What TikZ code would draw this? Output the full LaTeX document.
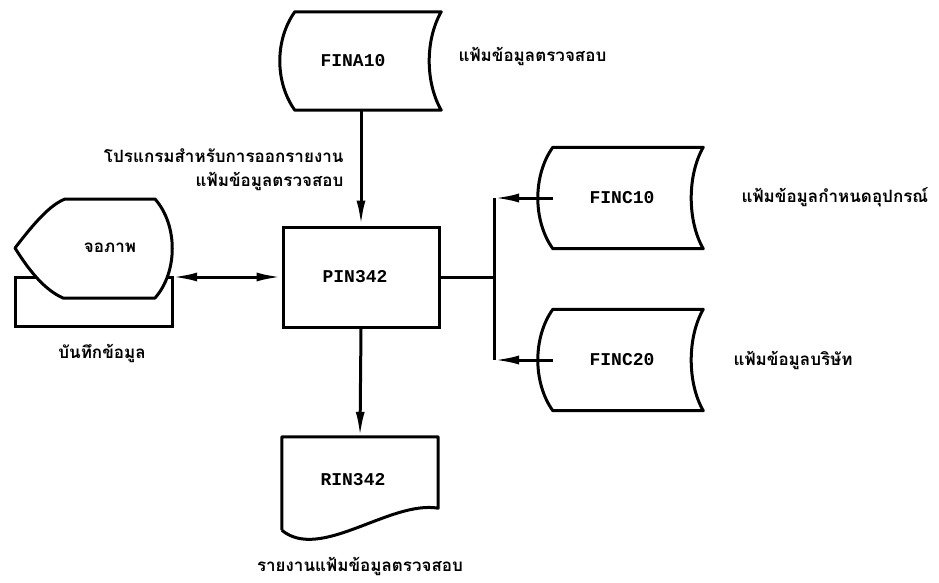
\documentclass[tikz,border=0pt]{standalone}
\usepackage{fontspec}
\setmonofont{Liberation Mono}
\newfontfamily\thaifont[Script=Thai]{Loma}
\usetikzlibrary{arrows.meta}
\tikzset{
  ln/.style={line width=3pt},
  tipb/.tip={Latex[length=25pt,width=9pt]},
  flow/.style={ln,-tipb},
  code/.style={font=\ttfamily\bfseries\fontsize{18}{20}\selectfont},
  thai/.style={font=\thaifont\bfseries\fontsize{17}{24}\selectfont},
  area/.style={draw=none,inner sep=0pt},
}
\newcommand\storedshape[1]{%
  \draw[ln,line join=round] (#1.north west) -- (#1.north east)
    .. controls ([xshift=-16pt,yshift=-28pt]#1.north east) and ([xshift=-16pt,yshift=28pt]#1.south east) .. (#1.south east)
    -- (#1.south west)
    .. controls ([xshift=-20pt,yshift=28pt]#1.south west) and ([xshift=-20pt,yshift=-28pt]#1.north west) .. cycle;}
\begin{document}
\begin{tikzpicture}[x=1pt,y=-1pt]
\useasboundingbox (0,0) rectangle (939,583);
% file FINA10
\node[area,code,minimum width=146pt,minimum height=98pt] (fina) at (368,61) {FINA10\hspace*{30pt}};
\storedshape{fina}
\node[thai,anchor=west] (finalbl) at (455,56) {แฟ้มข้อมูลตรวจสอบ};
% program
\node[draw,ln,code,minimum width=156pt,minimum height=100pt] (pin) at (361,277) {PIN342\hspace*{12pt}};
\node[thai,anchor=east,align=right] (pinlbl) at (347,170) {โปรแกรมสำหรับการออกรายงาน\\แฟ้มข้อมูลตรวจสอบ};
% display + back box
\node[area,minimum width=157pt,minimum height=127pt] (disp) at (93.5,262.5) {};
\draw[ln,fill=white] (15,277) rectangle (172,326);
\draw[ln,fill=white,line join=round] (15,248) .. controls (35,222) and (50,205) .. (65,199) -- (155,199)
  .. controls (178,225) and (178,272) .. (155,298) -- (63,298)
  .. controls (45,290) and (30,272) .. cycle;
\node[thai] (disptxt) at (110,248) {จอภาพ};
\node[thai] (displbl) at (102,353) {บันทึกข้อมูล};
% files FINC10, FINC20
\node[area,code,minimum width=150pt,minimum height=101pt] (finc1) at (628,198) {FINC10\hspace*{12pt}};
\storedshape{finc1}
\node[thai,anchor=west] (finc1lbl) at (738,197) {แฟ้มข้อมูลกำหนดอุปกรณ์};
\node[area,code,minimum width=150pt,minimum height=101pt] (finc2) at (628,360) {FINC20\hspace*{12pt}};
\storedshape{finc2}
\node[thai,anchor=west] (finc2lbl) at (730,360) {แฟ้มข้อมูลบริษัท};
% report RIN342
\node[area,minimum width=156pt,minimum height=93pt] (rin) at (360,483.5) {};
\node[code] (rintxt) at (353,480) {RIN342};
\draw[ln,line join=round] (rin.south west) -- (rin.north west) -- (rin.north east) -- ([yshift=22pt]rin.south east)
  .. controls (390,500) and (320,562) .. (rin.south west);
\node[thai] (rinlbl) at (360,566) {รายงานแฟ้มข้อมูลตรวจสอบ};
% connectors
\coordinate (jn) at (494,277);
\draw[flow] (pin.north |- fina.south) -- (pin.north);
\draw[ln,tipb-tipb] (disp.east |- pin.west) -- (pin.west);
\draw[flow] (pin.south) -- (rin.north);
\draw[ln] (pin.east) -- (jn);
\draw[ln] (jn |- finc1.west) -- (jn |- finc2.west);
\draw[flow] (finc1.west) -- (jn |- finc1.west);
\draw[flow] (finc2.west) -- (jn |- finc2.west);
\end{tikzpicture}
\end{document}
